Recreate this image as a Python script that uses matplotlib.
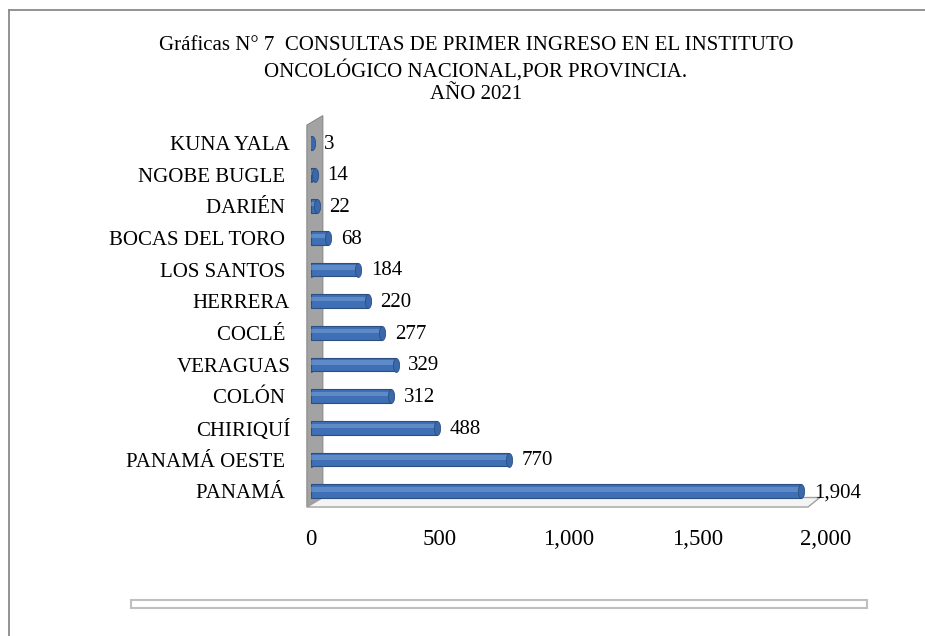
import matplotlib.pyplot as plt
from matplotlib.path import Path
from matplotlib.patches import Polygon, Rectangle
from matplotlib.lines import Line2D
from matplotlib.ticker import FuncFormatter

plt.rcParams['font.family'] = ['Liberation Serif', 'DejaVu Serif']

# Data, bottom row first (as drawn in the chart)
provincias = ['PANAMÁ ', 'PANAMÁ OESTE ', 'CHIRIQUÍ', 'COLÓN ', 'VERAGUAS',
              'COCLÉ ', 'HERRERA', 'LOS SANTOS ', 'BOCAS DEL TORO ', 'DARIÉN ',
              'NGOBE BUGLE ', 'KUNA YALA']
consultas = [1904, 770, 488, 312, 329, 277, 220, 184, 68, 22, 14, 3]
x_ticks = [0, 500, 1000, 1500, 2000]

title = ("Gráficas N° 7  CONSULTAS DE PRIMER INGRESO EN EL INSTITUTO\n"
         "ONCOLÓGICO NACIONAL,POR PROVINCIA.\n"
         "AÑO 2021")

fig = plt.figure(figsize=(9.25, 6.36), dpi=100)
ax = fig.add_axes([0.3362, 0.2028, 0.5568, 0.5975])

pos = list(range(len(provincias)))

# 3D-ish wall and floor behind the bars
wall = Polygon([(-0.008, 0.0), (-0.008, 1.005), (0.023, 1.03), (0.023, 0.025)],
               closed=True, transform=ax.transAxes, clip_on=False,
               facecolor='#a3a3a3', edgecolor='#8a8a8a', lw=0.8, zorder=0)
floor = Polygon([(-0.008, 0.0), (0.023, 0.025), (0.988, 0.025), (0.965, 0.0)],
                closed=True, transform=ax.transAxes, clip_on=False,
                facecolor='#f4f4f4', edgecolor='#a0a0a0', lw=1.0, zorder=0)
ax.add_patch(wall)
ax.add_patch(floor)

# cylinder-like bars: body, highlight, end caps
h = 0.44
ax.barh(pos, consultas, height=h, color='#3f6fb4', edgecolor='#2b4f82',
        lw=0.8, zorder=2)
ax.barh([p + 0.06 for p in pos], consultas, height=0.14, color='#7ea6dc',
        alpha=0.5, lw=0, zorder=3)

circ = Path.unit_circle()
cap = Path(circ.vertices * [0.45, 1.0], circ.codes)
ax.scatter(consultas, pos, marker=cap, s=100, color='#3a68aa',
           edgecolor='#2b4f82', lw=0.6, zorder=4)
ax.scatter([0] * len(pos), pos, marker=cap, s=100, color='#3f6fb4',
           edgecolor='#2b4f82', lw=0.6, zorder=1.9)

for p, v in zip(pos, consultas):
    ax.annotate(f'{v:,}', (v, p), xytext=(9, -1), textcoords='offset points',
                va='center', ha='left', fontsize=15, color='black')

ax.set_xlim(0, 2000)
ax.set_ylim(-0.5, 11.5)
ax.set_xticks(x_ticks)
ax.xaxis.set_major_formatter(FuncFormatter(lambda x, _: f'{int(x):,}'))
ax.set_yticks(pos)
ax.set_yticklabels(provincias)
ax.tick_params(axis='both', length=0)
ax.tick_params(axis='y', pad=15, labelsize=15)
ax.tick_params(axis='x', pad=16, labelsize=16.5)
for s in ax.spines.values():
    s.set_visible(False)
ax.patch.set_visible(False)

fig.text(0.5146, 1 - 36 / 636, title, ha='center', va='top', fontsize=15,
         linespacing=1.25, multialignment='center')

# empty legend box at the bottom
fig.add_artist(Rectangle((131 / 925, 1 - 608 / 636), 736 / 925, 8 / 636,
                         transform=fig.transFigure, facecolor='white',
                         edgecolor='#bfbfbf', lw=1.5))

# chart area frame (left and top edges)
fig.add_artist(Line2D([9 / 925, 9 / 925], [0, 1 - 10 / 636],
                      transform=fig.transFigure, color='#8a8a8a', lw=1.3))
fig.add_artist(Line2D([9 / 925, 1], [1 - 10 / 636, 1 - 10 / 636],
                      transform=fig.transFigure, color='#8a8a8a', lw=1.3))

fig.savefig('out.png', dpi=100)
